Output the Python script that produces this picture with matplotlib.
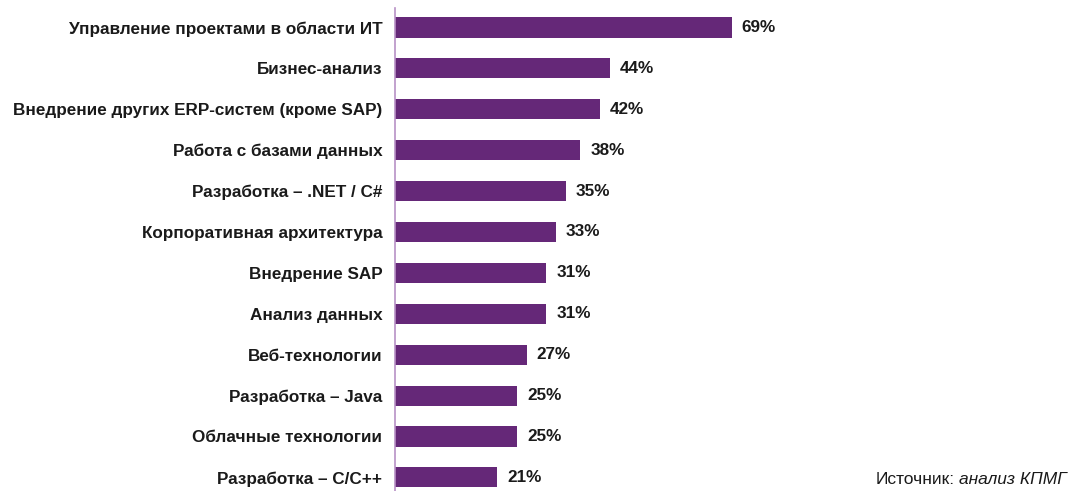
import matplotlib.pyplot as plt

plt.rcParams['font.family'] = ['Liberation Sans', 'DejaVu Sans']

categories = [
    "Управление проектами в области ИТ",
    "Бизнес-анализ",
    "Внедрение других ERP-систем (кроме SAP)",
    "Работа с базами данных",
    "Разработка – .NET / C#",
    "Корпоративная архитектура",
    "Внедрение SAP",
    "Анализ данных",
    "Веб-технологии",
    "Разработка – Java",
    "Облачные технологии",
    "Разработка – C/C++",
]
values = [69, 44, 42, 38, 35, 33, 31, 31, 27, 25, 25, 21]

bar_color = "#652878"
text_color = "#1a1a1a"

W, H = 1074, 491
fig = plt.figure(figsize=(W / 100, H / 100), dpi=100)
ax_left, ax_top = 395, 8
ax = fig.add_axes([ax_left / W, 0, (W - ax_left) / W, (H - ax_top) / H])

pos = list(range(len(categories)))
ax.barh(pos, values, height=0.49, color=bar_color)

px_per_unit = 4.88
ax.set_xlim(0, (W - ax_left) / px_per_unit)
step = 40.9
ax.set_ylim((H - 27.5) / step, -(27.5 - ax_top) / step)

for p, v in zip(pos, values):
    ax.text(v + 10 / px_per_unit, p, f"{v}%", va="center", ha="left",
            fontsize=12.3, color=text_color, fontweight="bold")

ax.set_yticks(pos)
ax.set_yticklabels(categories, fontsize=12.3, color=text_color, fontweight="bold")
ax.tick_params(axis="y", length=0, pad=9)
ax.set_xticks([])
for s in ["top", "right", "bottom"]:
    ax.spines[s].set_visible(False)
ax.spines["left"].set_color("#b891c6")
ax.spines["left"].set_linewidth(1.2)

src = fig.text(1067 / W, 1 - 480 / H, "анализ КПМГ", ha="right", va="center",
               fontsize=12.5, style="italic", color=text_color)
fig.canvas.draw()
bb = src.get_window_extent()
fig.text(bb.x0 / W - 0.004, 1 - 480 / H, "Источник:", ha="right", va="center",
         fontsize=12.5, color=text_color)

fig.savefig("out.png", dpi=100)
